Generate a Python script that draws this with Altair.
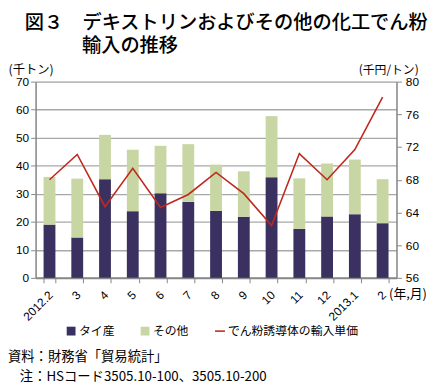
import altair as alt
import pandas as pd

months = ["2012.2", "3", "4", "5", "6", "7", "8", "9", "10", "11", "12", "2013.1", "2"]
thai = [19.0, 14.4, 35.2, 23.8, 30.2, 27.1, 23.9, 21.8, 35.9, 17.5, 21.9, 22.7, 19.5]
other = [17.0, 21.0, 15.8, 21.9, 16.9, 20.6, 16.5, 16.2, 21.8, 18.0, 18.9, 19.5, 15.7]
price = [68.0, 71.1, 64.7, 69.4, 64.6, 66.2, 68.9, 66.3, 62.4, 71.2, 68.0, 71.7, 78.1]

bar_series = ["タイ産", "その他"]
line_series = "でん粉誘導体の輸入単価"
title_lines = ["図３　デキストリンおよびその他の化工でん粉", "輸入の推移"]
notes = ["資料：財務省「貿易統計」", "注：HSコード3505.10-100、3505.10-200"]

JP = "Noto Sans CJK JP"
NUM = "Liberation Sans, Noto Sans CJK JP"

rows = []
for m, a, b in zip(months, thai, other):
    rows.append({"month": m, "series": bar_series[0], "value": a, "ord": 0})
    rows.append({"month": m, "series": bar_series[1], "value": b, "ord": 1})
bar_df = pd.DataFrame(rows)
line_df = pd.DataFrame({"month": months, "price": price, "series": [line_series] * len(months)})

x_enc = alt.X(
    "month:N",
    sort=months,
    scale=alt.Scale(paddingInner=0.57, paddingOuter=0.285),
    axis=alt.Axis(
        title="(年,月)",
        titleAngle=0,
        titleX=358,
        titleY=16,
        titleAlign="left",
        titleBaseline="middle",
        titleFont=JP,
        titleFontSize=13,
        titleFontWeight="normal",
        titleColor="#000",
        labelAngle=-45,
        labelAlign="right",
        labelBaseline="middle",
        labelPadding=10,
        labelOffset=1,
        labelFont=NUM,
        labelFontSize=12,
        labelColor="#000",
        tickBand="extent",
        tickSize=5,
        tickColor="#888",
        domainColor="#888",
        domainWidth=2,
        grid=False,
    ),
)

bars = alt.Chart(bar_df).mark_bar(size=12).encode(
    x=x_enc,
    y=alt.Y(
        "value:Q",
        stack="zero",
        scale=alt.Scale(domain=[0, 70], nice=False),
        axis=alt.Axis(
            title="(千トン)",
            titleAngle=0,
            titleX=-28,
            titleY=-12,
            titleAlign="left",
            titleBaseline="middle",
            titleFont=JP,
            titleFontSize=12.5,
            titleFontWeight="normal",
            titleColor="#000",
            values=[0, 10, 20, 30, 40, 50, 60, 70],
            labelFont=NUM,
            labelFontSize=12,
            labelColor="#000",
            labelPadding=2,
            tickSize=5,
            tickColor="#888",
            domainColor="#888",
            domainWidth=1.5,
            grid=True,
            gridColor="#a8a8a8",
            gridWidth=1.3,
        ),
    ),
    color=alt.Color(
        "series:N",
        scale=alt.Scale(domain=bar_series, range=["#3a3160", "#c8d6a3"]),
        legend=alt.Legend(
            title=None,
            orient="none",
            direction="horizontal",
            legendX=30,
            legendY=247,
            symbolType="square",
            symbolSize=80,
            symbolStrokeWidth=0,
            labelFont=JP,
            labelFontSize=12,
            labelColor="#000",
            labelOffset=2,
            columnPadding=24,
        ),
    ),
    order=alt.Order("ord:Q"),
)

line = alt.Chart(line_df).mark_line(strokeWidth=1.6).encode(
    x=alt.X("month:N", sort=months),
    y=alt.Y(
        "price:Q",
        scale=alt.Scale(domain=[56, 80], nice=False),
        axis=alt.Axis(
            orient="right",
            title="(千円/トン)",
            titleAngle=0,
            titleX=22,
            titleY=-12,
            titleAlign="right",
            titleBaseline="middle",
            titleFont=JP,
            titleFontSize=12,
            titleFontWeight="normal",
            titleColor="#000",
            values=[56, 60, 64, 68, 72, 76, 80],
            labelFont=NUM,
            labelFontSize=12,
            labelColor="#000",
            labelPadding=4,
            tickSize=5,
            tickColor="#888",
            domainColor="#888",
            domainWidth=1.5,
            grid=False,
        ),
    ),
    stroke=alt.Stroke(
        "series:N",
        scale=alt.Scale(domain=[line_series], range=["#c0281e"]),
        legend=alt.Legend(
            title=None,
            orient="none",
            legendX=181,
            legendY=247,
            symbolType="stroke",
            symbolSize=100,
            symbolStrokeWidth=1.6,
            labelFont=JP,
            labelFontSize=12,
            labelColor="#000",
            labelOffset=2,
        ),
    ),
)


def text_layer(txt, x, y, size, weight="normal"):
    return alt.Chart(pd.DataFrame({"t": [txt]})).mark_text(
        align="left", baseline="alphabetic", font=JP, fontSize=size,
        fontWeight=weight, color="#000"
    ).encode(text="t:N", x=alt.value(x), y=alt.value(y))


title1 = text_layer(title_lines[0], -11, -53, 19.5, 500)
title2 = text_layer(title_lines[1], 47, -30, 19.5, 500)
note1 = text_layer(notes[0], -28, 283, 13.5)
note2 = text_layer(notes[1], -16, 304, 13.5)

chart = (
    alt.layer(bars, line, title1, title2, note1, note2)
    .resolve_scale(y="independent", color="independent")
    .properties(
        width=366,
        height=199,
        padding={"left": 28, "top": 72, "right": 35, "bottom": 108},
        autosize=alt.AutoSizeParams(type="none"),
    )
    .configure_view(stroke=None)
    .configure(background="white")
)

chart.save("out.html", embed_options={"renderer": "svg", "actions": False})
